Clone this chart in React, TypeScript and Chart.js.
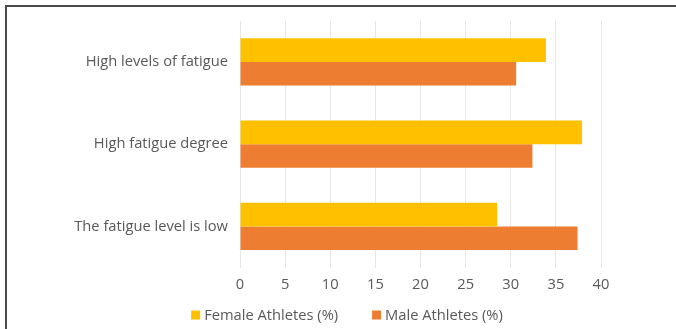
import React, { useEffect, useRef } from "react";
import { Chart, registerables } from "chart.js";

Chart.register(...registerables);

const categories = ["High levels of fatigue", "High fatigue degree", "The fatigue level is low"];
const femaleValues = [33.9, 37.9, 28.5];
const maleValues = [30.6, 32.4, 37.4];
const seriesNames = ["Female Athletes (%)", "Male Athletes (%)"];
const seriesColors = ["#FFC000", "#ED7D31"];
const xTickMax = 40;
const xTickStep = 5;

const FONT = "'Open Sans', 'Noto Sans', sans-serif";
const TEXT = "#595959";
const FS = 14.7;

const bottomLegend = {
  id: "bottomLegend",
  afterDraw(chart: any) {
    const ctx = chart.ctx;
    ctx.save();
    ctx.font = `${FS}px ${FONT}`;
    ctx.textBaseline = "middle";
    ctx.textAlign = "left";
    const box = 9;
    const gapText = 4;
    const gapItem = 34;
    const items = chart.data.datasets.map((d: any) => ({
      label: d.label,
      color: d.backgroundColor,
      w: ctx.measureText(d.label).width,
    }));
    const total = items.reduce((s: number, it: any) => s + box + gapText + it.w, 0) + gapItem * (items.length - 1);
    const centerX = 347;
    const y = 315;
    let x = centerX - total / 2;
    items.forEach((it: any) => {
      ctx.fillStyle = it.color;
      ctx.fillRect(x, y - box / 2, box, box);
      x += box + gapText;
      ctx.fillStyle = TEXT;
      ctx.fillText(it.label, x, y + 0.5);
      x += it.w + gapItem;
    });
    ctx.restore();
  },
};

export default function App() {
  const ref = useRef<HTMLCanvasElement | null>(null);

  useEffect(() => {
    if (!ref.current) return;
    const chart = new Chart(ref.current, {
      type: "bar",
      data: {
        labels: categories,
        datasets: [
          {
            label: seriesNames[0],
            data: femaleValues,
            backgroundColor: seriesColors[0],
            barPercentage: 1,
            categoryPercentage: 0.575,
          },
          {
            label: seriesNames[1],
            data: maleValues,
            backgroundColor: seriesColors[1],
            barPercentage: 1,
            categoryPercentage: 0.575,
          },
        ],
      },
      plugins: [bottomLegend],
      options: {
        indexAxis: "y",
        responsive: false,
        animation: false,
        layout: { padding: { left: 0, right: 75, top: 14, bottom: 35.5 } },
        plugins: {
          legend: { display: false },
          tooltip: { enabled: false },
        },
        scales: {
          x: {
            min: 0,
            max: xTickMax,
            ticks: {
              stepSize: xTickStep,
              color: TEXT,
              padding: 9,
              font: { family: FONT, size: FS },
            },
            grid: { color: "#e6e6e6", drawTicks: false },
            border: { display: false },
            afterFit: (scale: any) => {
              scale.height = 26;
            },
          },
          y: {
            ticks: {
              color: TEXT,
              padding: 12,
              font: { family: FONT, size: FS },
            },
            grid: { display: false, drawTicks: false },
            border: { display: false },
            afterFit: (scale: any) => {
              scale.width = 240;
            },
          },
        },
      },
    });
    return () => chart.destroy();
  }, []);

  return (
    <div style={{ position: "fixed", left: 0, top: 0, width: 676, height: 329, background: "#fff", overflow: "hidden" }}>
      <canvas ref={ref} width={676} height={329} style={{ position: "absolute", left: 0, top: 0 }} />
      <div
        style={{
          position: "absolute",
          left: 5,
          top: 5,
          right: -10,
          bottom: -10,
          borderTop: "2px solid #4a4a4a",
          borderLeft: "2px solid #4a4a4a",
          pointerEvents: "none",
        }}
      />
    </div>
  );
}
